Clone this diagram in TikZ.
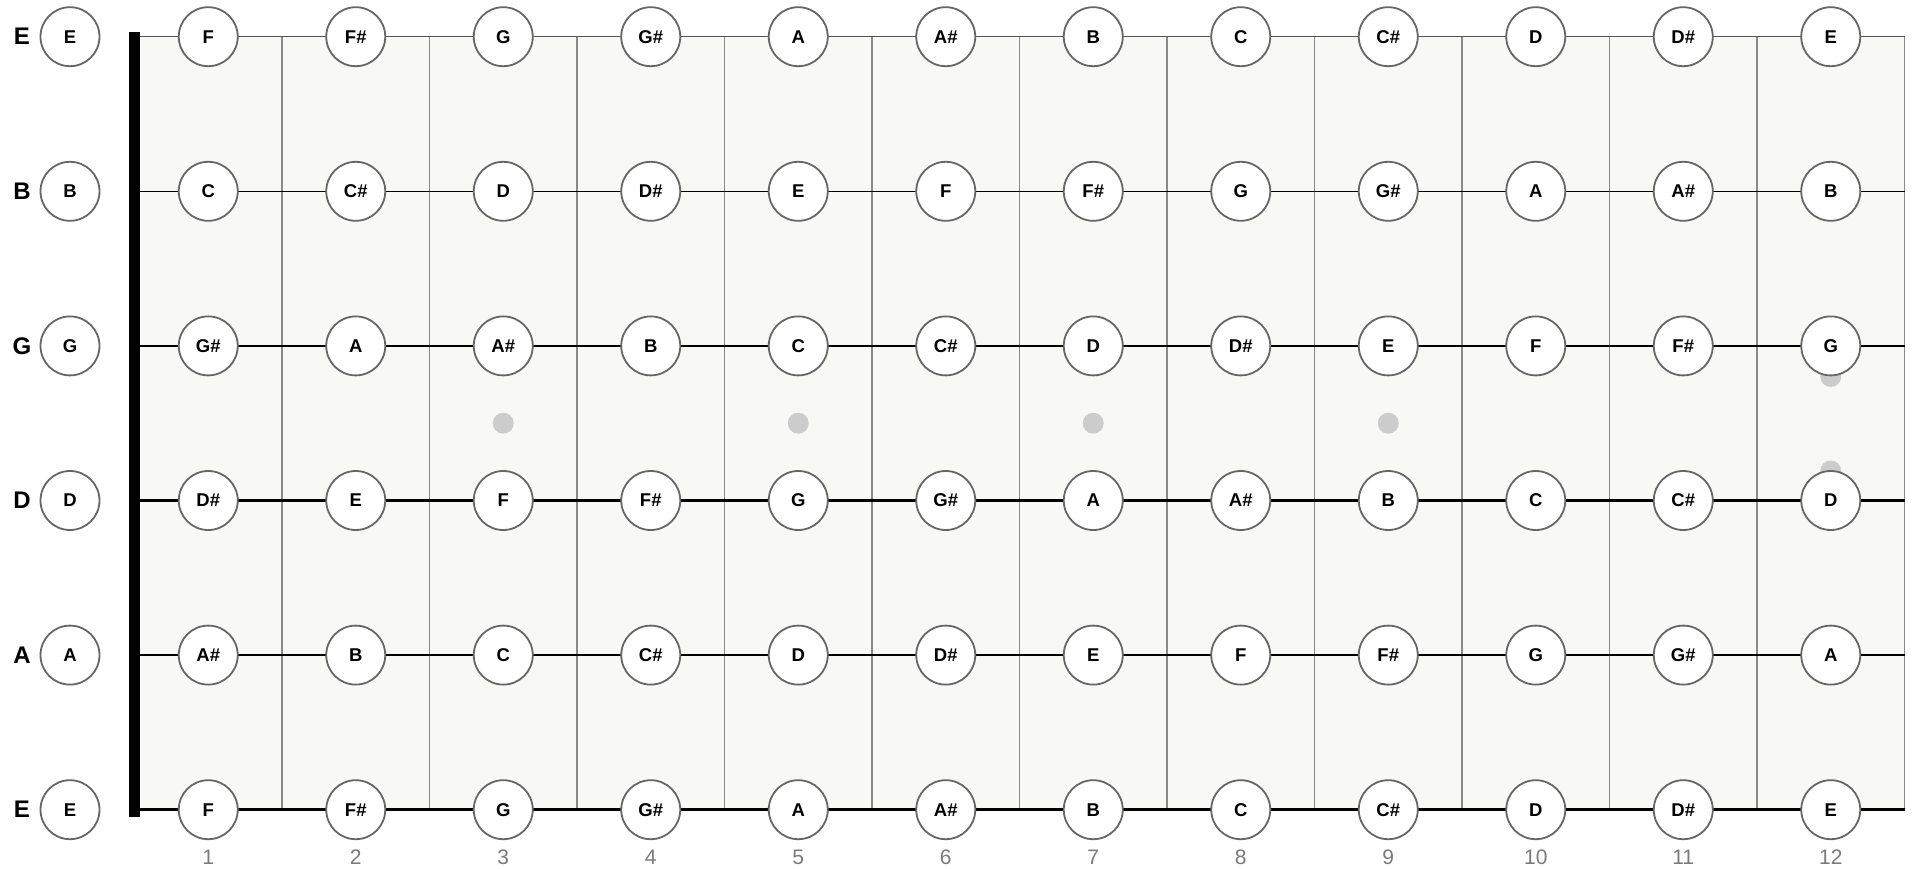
\documentclass[tikz,border=0pt]{standalone}
\usepackage{fontspec}
\setmainfont{Liberation Sans}
\usetikzlibrary{positioning}
\definecolor{FBwood}{HTML}{F8F8F7}
\definecolor{FBfret}{HTML}{8A8A8A}
\definecolor{FBring}{HTML}{666666}
\definecolor{FBdot}{HTML}{CCCCCC}
\definecolor{FBnum}{HTML}{7A7A7A}
\definecolor{FBthin}{HTML}{555555}
\newcommand{\notename}[1]{\ifcase#1 C\or C\#\or D\or D\#\or E\or F\or F\#\or G\or G\#\or A\or A\#\or B\fi}
\tikzset{
  notecirc/.style={circle, draw=FBring, fill=white, line width=1.8pt, minimum size=59pt, inner sep=0pt, font=\fontsize{18.5}{20}\selectfont\bfseries},
  strlabel/.style={font=\fontsize{24}{26}\selectfont\bfseries, inner sep=0pt},
  fretnum/.style={font=\fontsize{21}{23}\selectfont, text=FBnum, inner sep=0pt},
  fretline/.style={draw=FBfret, line width=1.8pt},
  inlay/.style={circle, fill=FBdot, minimum size=21pt, inner sep=0pt}
}

\begin{document}
\begin{tikzpicture}[x=1pt, y=-1pt]
\useasboundingbox (0,0) rectangle (1912,869);
\fill[FBwood] (134.5,36.7) rectangle (1904.5,809.7);
% frets
\foreach \f in {1,...,12}{
  \coordinate (fr\f-t) at ({134.5+\f*147.5},36.7);
  \coordinate (fr\f-b) at ({134.5+\f*147.5},809.7);
  \draw[fretline] (fr\f-t) -- (fr\f-b);
}
% inlays
\foreach \f in {3,5,7,9}
  \node[inlay] (dot\f) at ({134.5+(\f-0.5)*147.5},423.2) {};
\node[inlay] (dot12a) at ({134.5+11.5*147.5},376.5) {};
\node[inlay] (dot12b) at ({134.5+11.5*147.5},471) {};
% strings
\foreach \s/\w/\c in {1/1.2/FBthin,2/1.5/black,3/1.8/black,4/2.1/black,5/2.5/black,6/3/black}{
  \coordinate (str\s-a) at (134.5,{36.7+(\s-1)*154.6});
  \coordinate (str\s-b) at (1904.5,{36.7+(\s-1)*154.6});
  \draw[draw=\c, line width=\w pt] (str\s-a) -- (str\s-b);
}
% nut
\coordinate (nut-t) at (134.5,32);
\coordinate (nut-b) at (134.5,817);
\draw[line width=11pt] (nut-t) -- (nut-b);
% notes
\foreach \s/\o/\lab in {1/4/E,2/11/B,3/7/G,4/2/D,5/9/A,6/4/E}{
  \node[strlabel] (lab\s) at (22,{36.7+(\s-1)*154.6}) {\lab};
  \node[notecirc] (n\s-0) at (70,{36.7+(\s-1)*154.6}) {\lab};
  \foreach \f in {1,...,12}{
    \pgfmathtruncatemacro{\nt}{mod(\o+\f,12)}
    \node[notecirc] (n\s-\f) at ({134.5+(\f-0.5)*147.5},{36.7+(\s-1)*154.6}) {\notename{\nt}};
  }
}
% fret numbers
\foreach \f in {1,...,12}
  \node[fretnum, below=10pt of n6-\f] (num\f) {\f};
\end{tikzpicture}
\end{document}
